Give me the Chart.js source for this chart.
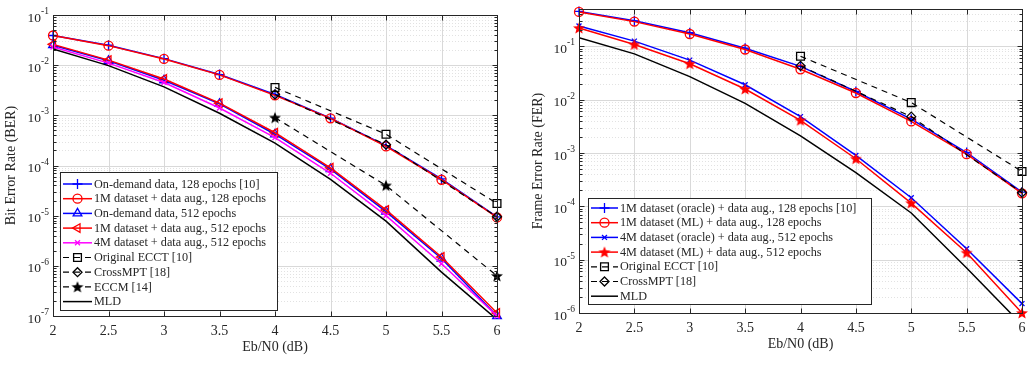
<!DOCTYPE html>
<html lang="en">
<head>
<meta charset="UTF-8">
<script src="https://cdn.jsdelivr.net/npm/chart.js"></script>
<title>BER / FER</title>
<style>
  body { margin: 0; background: #fff; width: 1034px; height: 380px; overflow: hidden; position: relative; }
  canvas { position: absolute; top: 0; }
  #ber { left: 0; }
  #fer { left: 517px; }
</style>
</head>
<body>
<canvas id="ber" width="517" height="380"></canvas>
<canvas id="fer" width="517" height="380"></canvas>
<script>
// x values (Eb/N0 in dB)
const ebn0 = [2, 2.5, 3, 3.5, 4, 4.5, 5, 5.5, 6];
const ebn0Ref = [4, 5, 6];

// left plot: BER
const berOnDemand128 = [0.039, 0.025, 0.0135, 0.0065, 0.0026, 0.00088, 0.00025, 5.4e-5, 9.5e-6];
const berDataset128 = [0.039, 0.0245, 0.0133, 0.0064, 0.0025, 0.00087, 0.00024, 5.2e-5, 9.2e-6];
const berOnDemand512 = [0.025, 0.0122, 0.005, 0.0017, 0.00042, 8.5e-5, 1.2e-5, 1.4e-6, 1.0e-7];
const berDataset512 = [0.026, 0.0126, 0.0053, 0.00175, 0.00045, 9e-5, 1.3e-5, 1.5e-6, 1.15e-7];
const berDataset4M = [0.023, 0.011, 0.0045, 0.0014, 0.00036, 7e-5, 1.0e-5, 1.1e-6, 1.0e-7];
const berECCT = [0.0036, 0.00042, 1.75e-5];
const berCrossMPT = [0.0026, 0.00026, 9.5e-6];
const berECCM = [0.0009, 4e-5, 6.3e-7];
const berMLD = [0.021, 0.0098, 0.0037, 0.0011, 0.00028, 5.3e-5, 7.8e-6, 7.5e-7, 8.5e-8];

// right plot: FER
const ferOracle128 = [0.45, 0.30, 0.18, 0.092, 0.042, 0.0142, 0.0043, 0.00102, 0.000185];
const ferML128 = [0.44, 0.29, 0.17, 0.087, 0.037, 0.0133, 0.0039, 0.00095, 0.000175];
const ferOracle512 = [0.24, 0.125, 0.055, 0.019, 0.0048, 0.0009, 0.000145, 1.6e-5, 1.5e-6];
const ferML512 = [0.22, 0.108, 0.047, 0.0158, 0.0041, 0.00078, 0.000115, 1.35e-5, 1.0e-6];
const ferECCT = [0.065, 0.0088, 0.00045];
const ferCrossMPT = [0.043, 0.0048, 0.00018];
const ferMLD = [0.145, 0.072, 0.027, 0.0085, 0.0021, 0.00043, 7.5e-5, 7e-6, 6e-7];

const SERIF = '"Liberation Serif", "Times New Roman", serif';
const TXT = '#262626';

function starImage(color) {
  const c = document.createElement('canvas');
  c.width = c.height = 14;
  const g = c.getContext('2d');
  g.beginPath();
  for (let k = 0; k < 10; k++) {
    const r = k % 2 ? 2.7 : 6.3;
    const a = -Math.PI / 2 + k * Math.PI / 5;
    g.lineTo(7 + r * Math.cos(a), 7.5 + r * Math.sin(a));
  }
  g.closePath();
  g.fillStyle = color;
  g.fill();
  return c;
}

function series(label, xs, ys, color, style, extra) {
  return Object.assign({
    label: label,
    data: xs.map((x, i) => ({ x: x, y: ys[i] })),
    borderColor: color,
    backgroundColor: color,
    borderWidth: 1.5,
    pointStyle: style,
    pointRadius: 4.5,
    pointBorderWidth: 1.3,
    pointBorderColor: color,
    pointBackgroundColor: 'rgba(0,0,0,0)',
    tension: 0,
    clip: 8
  }, extra || {});
}

function line(ctx, x1, y1, x2, y2) {
  ctx.beginPath();
  ctx.moveTo(x1, y1);
  ctx.lineTo(x2, y2);
  ctx.stroke();
}

function decadeRange(scale) {
  return [Math.ceil(Math.log10(scale.min) - 1e-9), Math.floor(Math.log10(scale.max) + 1e-9)];
}

// grid, box, inward ticks, y labels with superscripts and the legend
const matlabAxes = {
  id: 'matlabAxes',
  beforeDatasetsDraw(chart) {
    const { ctx, chartArea: a, scales: { x, y } } = chart;
    const [e0, e1] = decadeRange(y);
    ctx.save();
    ctx.lineWidth = 1;
    ctx.strokeStyle = '#e2e2e2';
    ctx.setLineDash([1, 2]);
    for (let e = e0 - 1; e <= e1; e++) {
      for (let m = 2; m <= 9; m++) {
        const v = m * Math.pow(10, e);
        if (v <= y.min || v >= y.max) continue;
        const py = Math.round(y.getPixelForValue(v)) + 0.5;
        line(ctx, a.left, py, a.right, py);
      }
    }
    ctx.setLineDash([]);
    ctx.strokeStyle = '#d9d9d9';
    for (let e = e0; e <= e1; e++) {
      const py = Math.round(y.getPixelForValue(Math.pow(10, e))) + 0.5;
      line(ctx, a.left, py, a.right, py);
    }
    for (let v = 2; v <= 6; v += 0.5) {
      const px = Math.round(x.getPixelForValue(v)) + 0.5;
      line(ctx, px, a.top, px, a.bottom);
    }
    ctx.restore();
  },
  afterDraw(chart, args, opts) {
    const { ctx, chartArea: a, scales: { x, y } } = chart;
    const [e0, e1] = decadeRange(y);
    ctx.save();
    ctx.strokeStyle = TXT;
    ctx.lineWidth = 1;
    const L = Math.round(a.left) + 0.5, R = Math.round(a.right) + 0.5;
    const T = Math.round(a.top) + 0.5, B = Math.round(a.bottom) + 0.5;
    ctx.strokeRect(L, T, R - L, B - T);
    for (let v = 2; v <= 6; v += 0.5) {
      const px = Math.round(x.getPixelForValue(v)) + 0.5;
      line(ctx, px, B, px, B - 5);
      line(ctx, px, T, px, T + 5);
    }
    for (let e = e0 - 1; e <= e1; e++) {
      for (let m = 1; m <= 9; m++) {
        const v = m * Math.pow(10, e);
        if (v < y.min * 0.999 || v > y.max * 1.001) continue;
        const py = Math.round(y.getPixelForValue(v)) + 0.5;
        const len = m === 1 ? 5 : 3;
        line(ctx, L, py, L + len, py);
        line(ctx, R, py, R - len, py);
      }
    }
    // y tick labels 10^e
    ctx.fillStyle = TXT;
    ctx.textBaseline = 'middle';
    ctx.textAlign = 'left';
    for (let e = e0; e <= e1; e++) {
      const py = y.getPixelForValue(Math.pow(10, e));
      ctx.font = '13.5px ' + SERIF;
      const w10 = ctx.measureText('10').width;
      ctx.font = '9.5px ' + SERIF;
      const we = ctx.measureText('-' + Math.abs(e)).width;
      const x0 = a.left - 4 - we - w10;
      ctx.font = '13.5px ' + SERIF;
      ctx.fillText('10', x0, py + 3);
      ctx.font = '9.5px ' + SERIF;
      ctx.fillText('-' + Math.abs(e), x0 + w10, py - 3.5);
    }
    // legend
    const lg = opts;
    ctx.fillStyle = '#fff';
    ctx.fillRect(lg.left, lg.top, lg.width, lg.height);
    ctx.strokeStyle = TXT;
    ctx.lineWidth = 1;
    ctx.strokeRect(lg.left + 0.5, lg.top + 0.5, lg.width, lg.height);
    chart.data.datasets.forEach((ds, i) => {
      const cy = lg.first + i * lg.rowH;
      const x1 = lg.left + 3, x2 = x1 + lg.lineLen;
      ctx.strokeStyle = ds.borderColor;
      ctx.lineWidth = ds.borderWidth;
      ctx.setLineDash(ds.borderDash || []);
      line(ctx, x1, cy, x2, cy);
      ctx.setLineDash([]);
      if (ds.pointStyle) {
        ctx.fillStyle = ds.pointBackgroundColor;
        ctx.strokeStyle = ds.pointBorderColor;
        ctx.lineWidth = ds.pointBorderWidth;
        Chart.helpers.drawPoint(ctx, {
          pointStyle: ds.pointStyle, radius: ds.pointRadius,
          rotation: ds.pointRotation || 0, borderWidth: ds.pointBorderWidth
        }, (x1 + x2) / 2, cy);
      }
      ctx.fillStyle = TXT;
      ctx.font = '12.2px ' + SERIF;
      ctx.textAlign = 'left';
      ctx.textBaseline = 'middle';
      ctx.fillText(ds.label, x2 + 2, cy + 0.5);
    });
    ctx.restore();
  }
};

function makeChart(id, datasets, yMin, yMax, yTitle, pad, yWidth, legend) {
  datasets.forEach((d, i) => { d.order = -i; });
  return new Chart(document.getElementById(id), {
    type: 'line',
    data: { datasets: datasets },
    plugins: [matlabAxes],
    options: {
      responsive: false,
      animation: false,
      events: [],
      layout: { padding: pad },
      plugins: { legend: { display: false }, tooltip: { enabled: false }, matlabAxes: legend },
      scales: {
        x: {
          type: 'linear', min: 2, max: 6,
          grid: { display: false, drawTicks: false },
          border: { display: false },
          ticks: { stepSize: 0.5, padding: 7, maxRotation: 0, color: TXT, font: { family: SERIF, size: 14 }, callback: v => String(v) },
          title: { display: true, text: 'Eb/N0 (dB)', color: TXT, font: { family: SERIF, size: 14 }, padding: { top: 0, bottom: 2 } },
          afterFit: s => { s.height = 42; }
        },
        y: {
          type: 'logarithmic', min: yMin, max: yMax,
          grid: { display: false, drawTicks: false },
          border: { display: false },
          ticks: { display: false },
          title: { display: true, text: yTitle, color: TXT, font: { family: SERIF, size: 14 }, padding: { top: 3, bottom: 0 } },
          afterFit: s => { s.width = yWidth; }
        }
      }
    }
  });
}

const dash = [6, 5];
const black = '#000000';

makeChart('ber', [
  series('On-demand data, 128 epochs [10]', ebn0, berOnDemand128, '#0000ff', 'cross', { pointRadius: 5 }),
  series('1M dataset + data aug., 128 epochs', ebn0, berDataset128, '#ff0000', 'circle'),
  series('On-demand data, 512 epochs', ebn0, berOnDemand512, '#0000ff', 'triangle', { pointRadius: 5 }),
  series('1M dataset + data aug., 512 epochs', ebn0, berDataset512, '#ff0000', 'triangle', { pointRadius: 5, pointRotation: -90 }),
  series('4M dataset + data aug., 512 epochs', ebn0, berDataset4M, '#ff00ff', 'crossRot', { pointRadius: 3.5 }),
  series('Original ECCT [10]', ebn0Ref, berECCT, black, 'rect', { borderDash: dash, borderWidth: 1.2, pointRadius: 5.5 }),
  series('CrossMPT [18]', ebn0Ref, berCrossMPT, black, 'rectRot', { borderDash: dash, borderWidth: 1.2, pointRadius: 4.5 }),
  series('ECCM [14]', ebn0Ref, berECCM, black, starImage(black), { borderDash: dash, borderWidth: 1.2 }),
  series('MLD', ebn0, berMLD, black, false, { pointRadius: 0, clip: 0 })
], 1e-7, 1e-1, 'Bit Error Rate (BER)', { left: 0, top: 15, right: 20, bottom: 22 }, 53,
  { left: 60, top: 172, width: 217, height: 138, first: 184, rowH: 14.7, lineLen: 29 });

makeChart('fer', [
  series('1M dataset (oracle) + data aug., 128 epochs [10]', ebn0, ferOracle128, '#0000ff', 'cross', { pointRadius: 5 }),
  series('1M dataset (ML) + data aug., 128 epochs', ebn0, ferML128, '#ff0000', 'circle'),
  series('4M dataset (oracle) + data aug., 512 epochs', ebn0, ferOracle512, '#0000ff', 'crossRot', { pointRadius: 3.5 }),
  series('4M dataset (ML) + data aug., 512 epochs', ebn0, ferML512, '#ff0000', starImage('#ff0000')),
  series('Original ECCT [10]', ebn0Ref, ferECCT, black, 'rect', { borderDash: dash, borderWidth: 1.2, pointRadius: 5.5 }),
  series('CrossMPT [18]', ebn0Ref, ferCrossMPT, black, 'rectRot', { borderDash: dash, borderWidth: 1.2, pointRadius: 4.5 }),
  series('MLD', ebn0, ferMLD, black, false, { pointRadius: 0, clip: 0 })
], 1e-6, 0.5, 'Frame Error Rate (FER)', { left: 10, top: 9, right: 12, bottom: 25 }, 52,
  { left: 71, top: 198, width: 283, height: 106, first: 208, rowH: 14.7, lineLen: 27 });
</script>
</body>
</html>
